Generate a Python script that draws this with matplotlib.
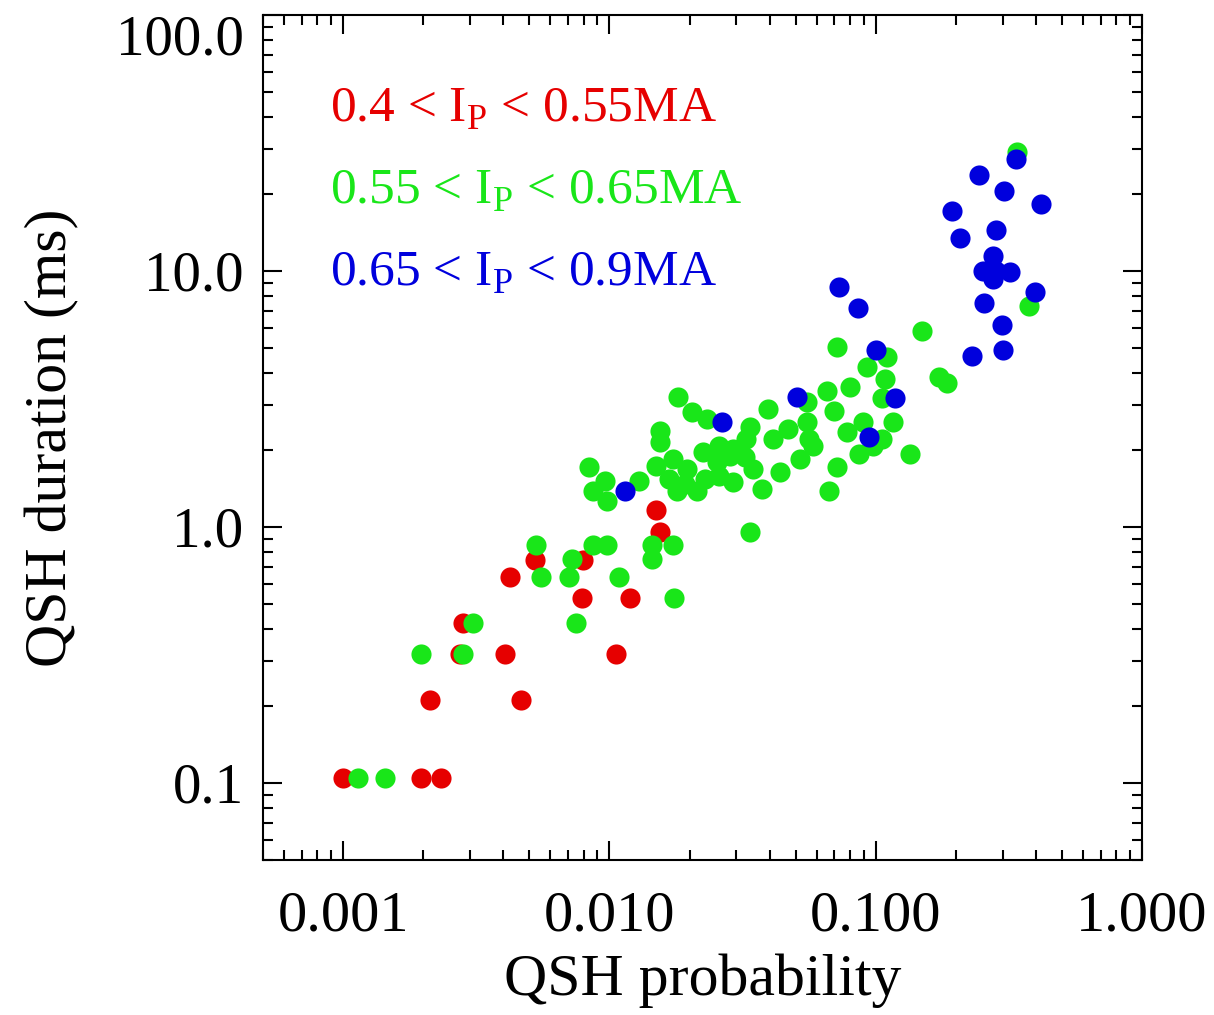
import numpy as np
import matplotlib
matplotlib.use("Agg")
import matplotlib.pyplot as plt
import matplotlib.transforms as mtransforms
from matplotlib.ticker import FixedLocator, FormatStrFormatter, LogLocator, NullFormatter

plt.rcParams['font.family'] = ['Liberation Serif', 'DejaVu Serif']
plt.rcParams['mathtext.fontset'] = 'custom'
plt.rcParams['mathtext.rm'] = 'Liberation Serif'

# 0.4 < Ip < 0.55 MA
red_prob = [0.00100, 0.00196, 0.00233, 0.00212, 0.00275, 0.00282, 0.00406, 0.00466,
            0.0106, 0.00423, 0.00525, 0.00789, 0.00795, 0.0119, 0.0150, 0.0155]
red_dur = [0.105, 0.105, 0.105, 0.21, 0.32, 0.42, 0.32, 0.21,
           0.32, 0.64, 0.74, 0.53, 0.74, 0.53, 1.17, 0.96]

# 0.55 < Ip < 0.65 MA
green_prob = [0.00114, 0.00144, 0.00196, 0.00282, 0.00308, 0.00749, 0.00553, 0.00705,
              0.0109, 0.0175, 0.00529, 0.00722, 0.0087, 0.0098, 0.0144, 0.0144,
              0.0173, 0.0337,
              0.0084, 0.0096, 0.0087, 0.0098, 0.0129, 0.0155, 0.0155, 0.0150,
              0.0173, 0.0168, 0.0195, 0.0179, 0.0213, 0.0224, 0.0253, 0.0259,
              0.0291, 0.0291, 0.0345, 0.0327, 0.0181, 0.0204, 0.0232, 0.0337,
              0.0394, 0.0411, 0.0467, 0.0551, 0.0551, 0.0657, 0.080, 0.070,
              0.0564, 0.058, 0.0518, 0.0437, 0.0375, 0.0322, 0.0895, 0.0781,
              0.106, 0.116, 0.0869, 0.098, 0.134, 0.0716, 0.067, 0.0713,
              0.110, 0.093, 0.108, 0.106, 0.149, 0.173, 0.186, 0.378,
              0.34, 0.0259, 0.0284, 0.0228, 0.0192]
green_dur = [0.105, 0.105, 0.32, 0.32, 0.42, 0.42, 0.64, 0.64,
             0.64, 0.53, 0.85, 0.75, 0.85, 0.85, 0.85, 0.75,
             0.85, 0.96,
             1.71, 1.51, 1.38, 1.26, 1.51, 2.37, 2.14, 1.73,
             1.84, 1.54, 1.68, 1.38, 1.38, 1.96, 1.79, 1.58,
             1.50, 2.02, 1.68, 2.20, 3.21, 2.81, 2.63, 2.45,
             2.88, 2.20, 2.41, 2.57, 3.07, 3.39, 3.51, 2.83,
             2.20, 2.07, 1.84, 1.64, 1.41, 1.87, 2.57, 2.35,
             2.20, 2.57, 1.93, 2.07, 1.93, 1.71, 1.38, 5.04,
             4.60, 4.20, 3.77, 3.18, 5.81, 3.84, 3.65, 7.27,
             29.2, 2.07, 1.89, 1.54, 1.47]

# 0.65 < Ip < 0.9 MA
blue_prob = [0.0114, 0.0264, 0.0506, 0.0942, 0.118, 0.100, 0.0856, 0.0730,
             0.229, 0.300, 0.297, 0.256, 0.398, 0.275, 0.252, 0.284,
             0.318, 0.275, 0.284, 0.207, 0.193, 0.416, 0.302, 0.244, 0.335]
blue_dur = [1.38, 2.57, 3.21, 2.24, 3.18, 4.90, 7.19, 8.65,
            4.64, 4.90, 6.15, 7.47, 8.3, 9.3, 9.96, 9.96,
            9.9, 11.4, 14.4, 13.4, 17.2, 18.3, 20.6, 23.7, 27.5]

labels = [r'0.4 < I$_\mathrm{P}$ < 0.55MA',
          r'0.55 < I$_\mathrm{P}$ < 0.65MA',
          r'0.65 < I$_\mathrm{P}$ < 0.9MA']
colors = ['#e60000', '#19e619', '#0000dd']

fig = plt.figure(figsize=(12.14, 10.15), dpi=100)
ax = fig.add_axes([0.2166, 0.1527, 0.7241, 0.8325])

s = 210
ax.scatter(red_prob, red_dur, s=s, color=colors[0], linewidths=0, zorder=3)
ax.scatter(green_prob, green_dur, s=s, color=colors[1], linewidths=0, zorder=4)
ax.scatter(blue_prob, blue_dur, s=s, color=colors[2], linewidths=0, zorder=5)

ax.set_xscale('log')
ax.set_yscale('log')
ax.set_xlim(0.0005, 1.0)
ax.set_ylim(0.05, 100)

ax.xaxis.set_major_locator(FixedLocator([0.001, 0.01, 0.1, 1.0]))
ax.xaxis.set_major_formatter(FormatStrFormatter('%.3f'))
ax.yaxis.set_major_locator(FixedLocator([0.1, 1.0, 10.0, 100.0]))
ax.yaxis.set_major_formatter(FormatStrFormatter('%.1f'))
ax.xaxis.set_minor_locator(LogLocator(base=10, subs=np.arange(2, 10)))
ax.yaxis.set_minor_locator(LogLocator(base=10, subs=np.arange(2, 10)))
ax.xaxis.set_minor_formatter(NullFormatter())
ax.yaxis.set_minor_formatter(NullFormatter())

ax.tick_params(which='both', direction='in', top=True, right=True, width=1.5)
ax.tick_params(which='major', length=14)
ax.tick_params(which='minor', length=7)
ax.tick_params(axis='x', which='major', labelsize=42, pad=22)
ax.tick_params(axis='y', which='major', labelsize=41, pad=14)
for sp in ax.spines.values():
    sp.set_linewidth(1.5)

# keep the top y label inside the figure, as in the original
fig.canvas.draw()
shift = mtransforms.ScaledTranslation(0, -14 / 72, fig.dpi_scale_trans)
top_lab = ax.yaxis.get_majorticklabels()[-1]
top_lab.set_transform(top_lab.get_transform() + shift)

ax.set_xlabel('QSH probability', fontsize=43, labelpad=8)
ax.set_ylabel('QSH duration (ms)', fontsize=43, labelpad=26)

for i, (lab, c) in enumerate(zip(labels, colors)):
    ax.text(0.076, 0.874 - i * 0.097, lab, color=c, fontsize=37,
            transform=ax.transAxes, va='baseline', ha='left')

fig.savefig('out.png', dpi=100)
